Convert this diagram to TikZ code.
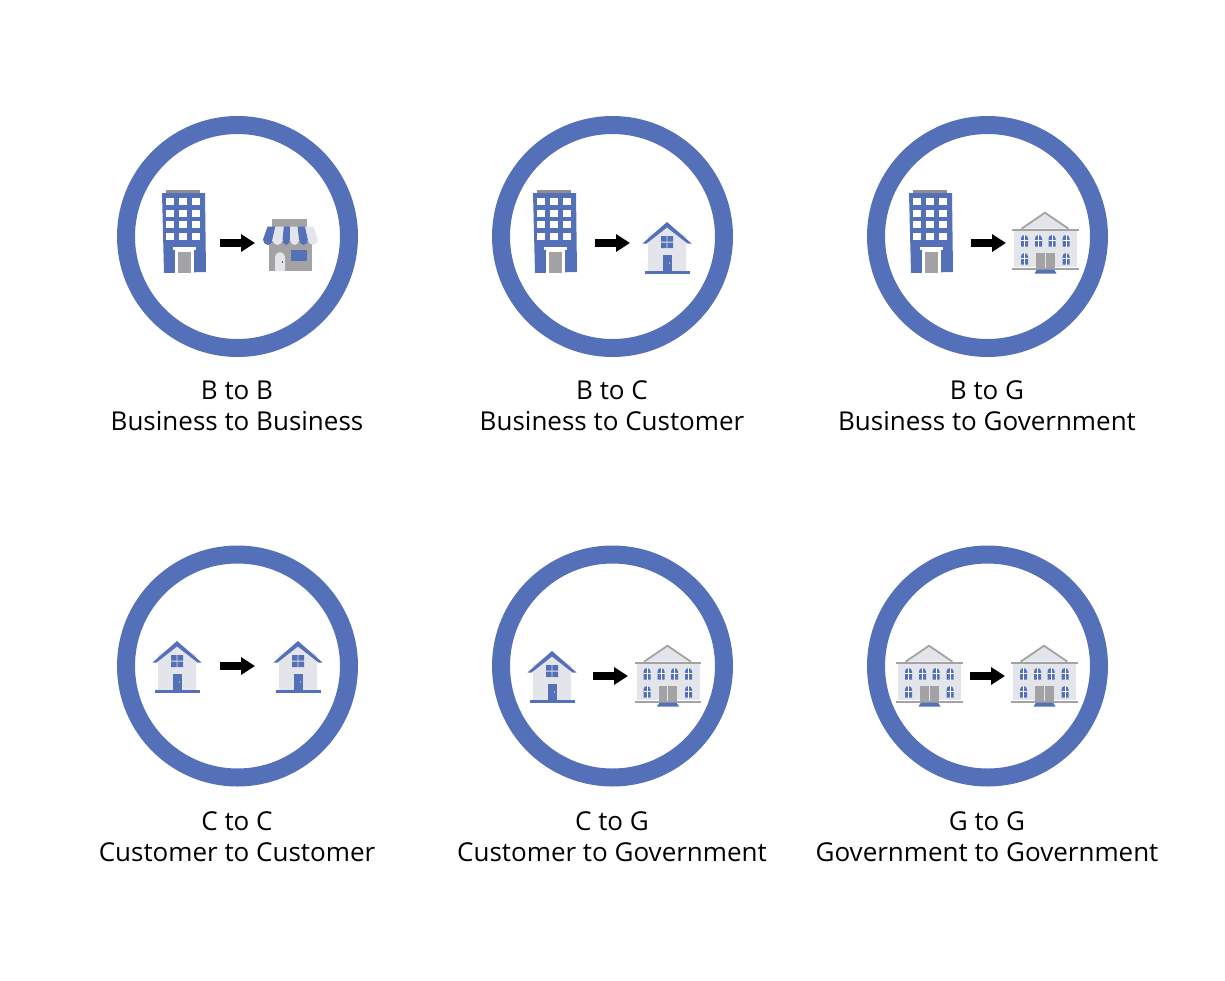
\documentclass[tikz,border=0pt]{standalone}
\usepackage{fontspec}
\setmainfont{Open Sans}
\usetikzlibrary{arrows.meta}
\definecolor{ringblue}{HTML}{5470B8}
\definecolor{lightg}{HTML}{E4E5EA}
\definecolor{midg}{HTML}{A3A3A5}
\definecolor{darkg}{HTML}{8F8F92}
\tikzset{
  x=1pt,y=-1pt,
  ring/.style={draw=ringblue,line width=18pt,fill=none},
  captext/.style={align=center,font=\fontsize{26}{31}\selectfont,text=black,inner sep=0pt},
  flow/.style={line width=8pt,black,-{Triangle[length=14pt,width=17pt]}},
  pics/tower/.style={code={
    \fill[darkg] (4,-3) rectangle (38,0);
    \fill[ringblue] (0,0) -- (43,0) -- (44,79) -- (2,80) -- cycle;
    \foreach \r in {0,1,2,3}\foreach \c in {0,1,2}
      \fill[white] ({4.3+\c*12.8},{5+\r*11.7}) rectangle +(7.7,7);
    \fill[white] (11,54) rectangle (34,57);
    \fill[white] (13,57) rectangle (32,79.5);
    \fill[midg] (16,59) rectangle (29,79.5);
  }},
  pics/shop/.style={code={
    \fill[midg] (9.3,0) rectangle (44.3,8);
    \fill[midg] (6,22) rectangle (49.3,52);
    \foreach \a/\b/\col in {0/9.5/ringblue,9.5/19.5/lightg,19.5/27/ringblue,27/36/lightg,36/45/ringblue,45/55/lightg}{
      \fill[\col] ({4.5+\a/55*46},7.7) -- ({4.5+\b/55*46},7.7) -- ({\b},20.5) arc[start angle=0,end angle=180,x radius={(\b-\a)/2},y radius=5.5] -- cycle;
    }
    \fill[lightg] (12,52) -- (12,39) arc[start angle=180,end angle=0,x radius=5,y radius=-6] -- (22,52) -- cycle;
    \fill[darkg!60!black] (19.5,43) circle (0.8);
    \fill[ringblue] (28,31) rectangle (44,42);
  }},
  pics/homeb/.style={code={
    \fill[lightg] (-19,14) -- (0,3) -- (19,14) -- (19,49) -- (-19,49) -- cycle;
    \fill[ringblue] (0,0) -- (24.5,21.5) -- (20.5,21.5) -- (0,5.5) -- (-20.5,21.5) -- (-24.5,21.5) -- cycle;
    \fill[ringblue] (-6,14) rectangle (-0.4,19.7) (0.4,14) rectangle (6,19.7)
                    (-6,20.5) rectangle (-0.4,26) (0.4,20.5) rectangle (6,26);
    \fill[ringblue] (-4.5,33) rectangle (5,49);
    \fill[white] (2.5,41) circle (0.6);
    \fill[ringblue] (-22.5,49) rectangle (23,51.5);
  }},
  pics/gwin/.style={code={
    \fill[ringblue] (-3.5,11.5) -- (-3.5,3.5) arc[start angle=180,end angle=0,x radius=3.5,y radius=-3.5] -- (3.5,11.5) -- cycle;
    \draw[white,line width=0.3pt] (0,0) -- (0,11.5) (-3.5,5.5) -- (3.5,5.5);
  }},
  pics/gov/.style={code={
    \fill[lightg] (-23,16.7) -- (0,0) -- (23,16.7) -- cycle;
    \draw[midg,line width=1.8pt,line join=miter] (-23.5,16.7) -- (0,0.7) -- (23.5,16.7);
    \fill[lightg] (-31,18) rectangle (32,55);
    \fill[midg] (-33,16.5) rectangle (33.5,18.8);
    \foreach \q in {-20.5,-6.5,7,21} \pic at (\q,23) {gwin};
    \foreach \q in {-20.5,21} \pic at (\q,41) {gwin};
    \fill[midg] (-9,41) rectangle (9.5,56);
    \draw[lightg,line width=0.4pt] (0,41) -- (0,56);
    \fill[midg] (-33,55.5) rectangle (33.5,58);
    \fill[ringblue] (-8,57.5) -- (9,57.5) -- (11.5,61.5) -- (-10.5,61.5) -- cycle;
  }},
}
\begin{document}
\begin{tikzpicture}
\useasboundingbox (0,0) rectangle (1225,980);
\foreach \n/\cx/\cy in {a/237.5/236.5,b/612.5/236.5,c/987.5/236.5,d/237.5/666,e/612.5/666,f/987.5/666}
  \node[ring,circle,minimum size=223pt,inner sep=0pt] (ring\n) at (\cx,\cy) {};
\node[captext] (capa) at (237,406) {B to B\\Business to Business};
\node[captext] (capb) at (612,406) {B to C\\Business to Customer};
\node[captext] (capc) at (987,406) {B to G\\Business to Government};
\node[captext] (capd) at (237,837) {C to C\\Customer to Customer};
\node[captext] (cape) at (612,837) {C to G\\Customer to Government};
\node[captext] (capf) at (987,837) {G to G\\Government to Government};
\pic at (162,193) {tower};
\pic at (533,193) {tower};
\pic at (909,193) {tower};
\pic at (263,219) {shop};
\pic at (667,222) {homeb};
\pic at (1045,212) {gov};
\pic at (177,641) {homeb};
\pic at (298,641) {homeb};
\pic at (552,651) {homeb};
\pic at (667.5,645) {gov};
\pic at (929,645) {gov};
\pic at (1044,645) {gov};
\foreach \n/\xa/\ya in {a/220/243,b/595/243,c/971/243,d/220/666,e/593/676,f/970/676}{
  \coordinate (from\n) at (\xa,\ya);
  \coordinate (to\n) at (\xa+35,\ya);
  \draw[flow] (from\n) -- (to\n);
}
\end{tikzpicture}
\end{document}
